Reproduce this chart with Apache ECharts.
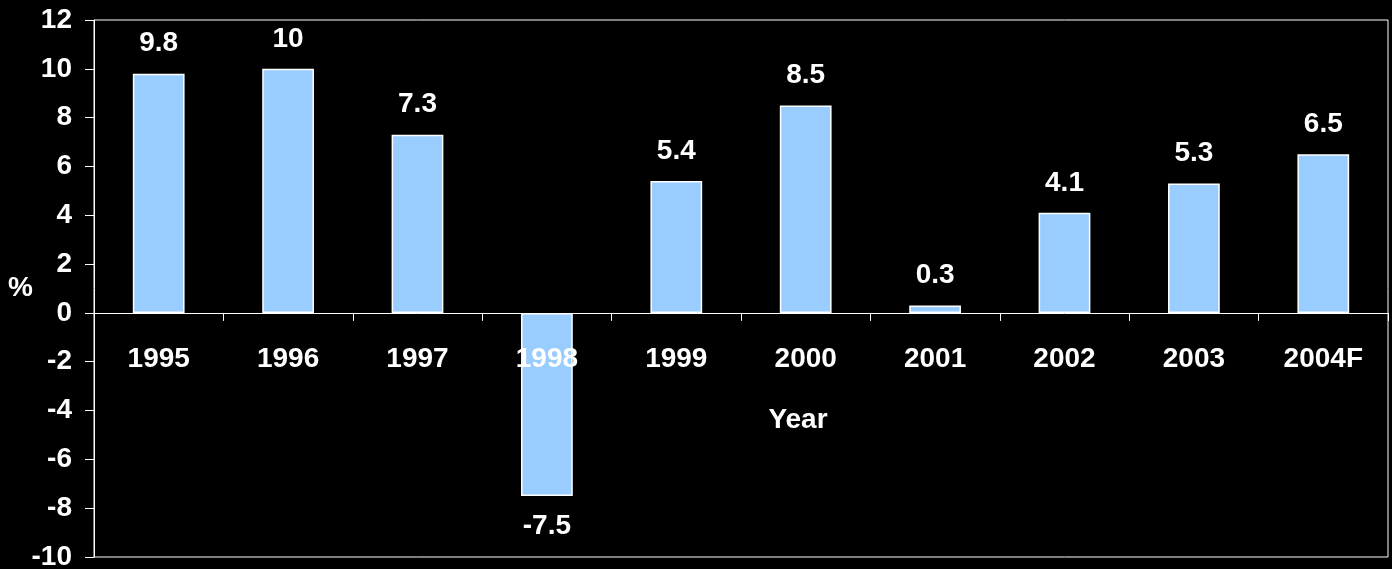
<!DOCTYPE html>
<html>
<head>
<meta charset="utf-8">
<script src="https://cdn.jsdelivr.net/npm/echarts@6/dist/echarts.min.js"></script>
<style>
  html, body { margin: 0; padding: 0; background: #000; }
  #chart { width: 1392px; height: 569px; }
</style>
</head>
<body>
<div id="chart"></div>
<script>
const years = ['1995', '1996', '1997', '1998', '1999', '2000', '2001', '2002', '2003', '2004F'];
const growth = [9.8, 10, 7.3, -7.5, 5.4, 8.5, 0.3, 4.1, 5.3, 6.5];

const font = 'Liberation Sans, Arial, sans-serif';
const chart = echarts.init(document.getElementById('chart'));
chart.setOption({
  backgroundColor: '#000',
  animation: false,
  grid: {
    left: 94, right: 4, top: 20, bottom: 12,
    containLabel: false,
    outerBoundsMode: 'none',
    show: true, borderColor: '#fff', borderWidth: 1
  },
  xAxis: {
    type: 'category',
    data: years,
    name: 'Year',
    nameLocation: 'middle',
    nameGap: -151,
    nameMoveOverlap: false,
    // left padding nudges the title right of the grid centre
    nameTextStyle: { color: '#fff', fontSize: 28, fontWeight: 'bold', fontFamily: font, padding: [0, 0, 0, 114] },
    axisLine: { onZero: true, lineStyle: { color: '#fff', width: 1 } },
    axisTick: { show: true, length: 8, lineStyle: { color: '#fff' } },
    // labels sit against the grid bottom, pull them up under the zero line
    axisLabel: { color: '#fff', fontSize: 28, fontWeight: 'bold', fontFamily: font, margin: -212 },
    z: 10
  },
  yAxis: {
    type: 'value',
    min: -10, max: 12, interval: 2,
    name: '%',
    nameLocation: 'middle',
    nameRotate: 0,
    nameGap: 61,
    nameMoveOverlap: false,
    nameTextStyle: { color: '#fff', fontSize: 28, fontWeight: 'bold', fontFamily: font },
    axisLine: { show: true, lineStyle: { color: '#fff', width: 1 } },
    axisTick: { show: true, length: 9, lineStyle: { color: '#fff' } },
    axisLabel: { color: '#fff', fontSize: 28, fontWeight: 'bold', fontFamily: font, margin: 22 },
    splitLine: { show: false }
  },
  series: [{
    type: 'bar',
    data: growth,
    barWidth: '40%',
    itemStyle: { color: '#99CCFF', borderColor: '#fff', borderWidth: 1.5 },
    label: {
      show: true,
      position: 'outside',
      distance: 16,
      color: '#fff',
      fontSize: 28,
      fontWeight: 'bold',
      fontFamily: font
    }
  }]
});
</script>
</body>
</html>
